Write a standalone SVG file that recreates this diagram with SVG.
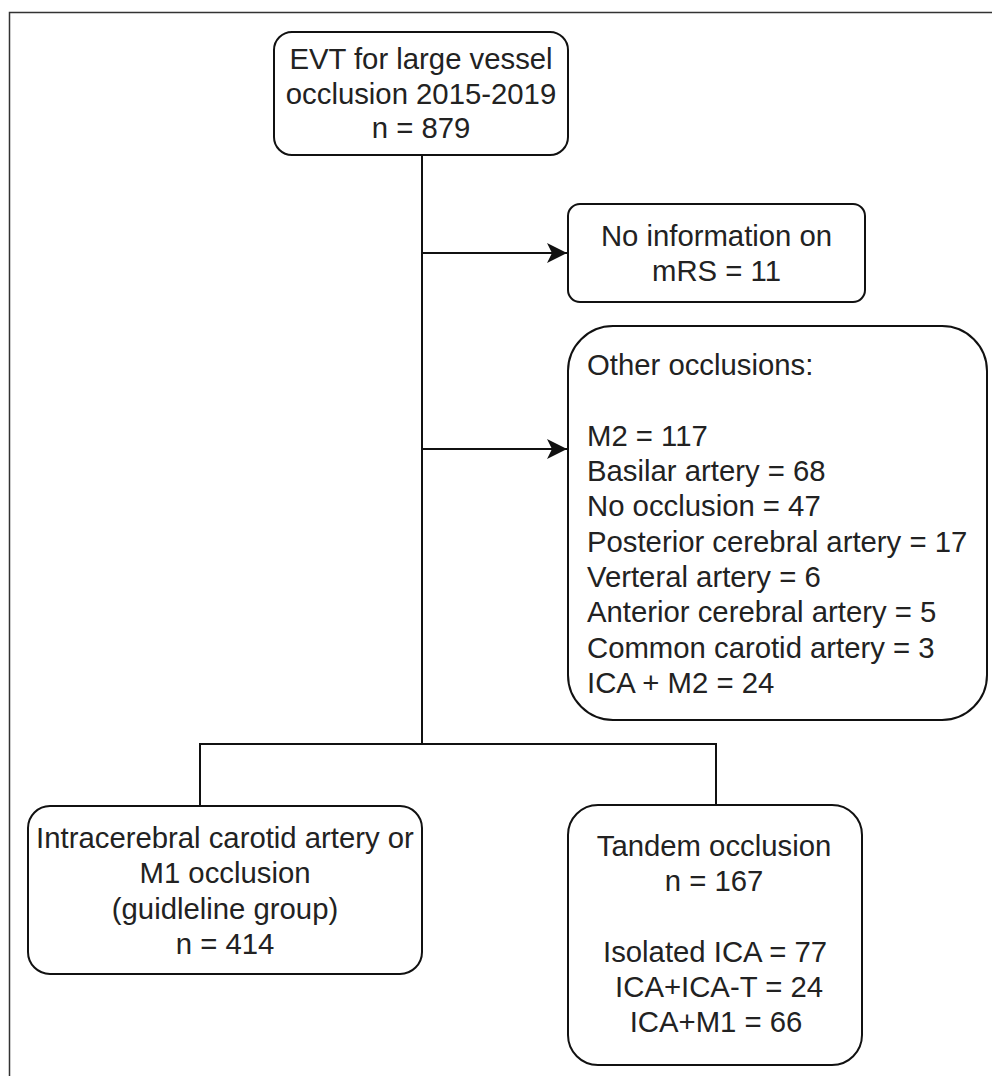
<svg xmlns="http://www.w3.org/2000/svg" width="992" height="1076" viewBox="0 0 992 1076">
<defs>
<style>
.box{fill:#fff;stroke:#111;stroke-width:2}
.t{font-family:"Liberation Sans",Arial,sans-serif;font-size:29.3px;fill:#222}
.c{text-anchor:middle}
.ln{fill:none;stroke:#111;stroke-width:2}
</style>
<marker id="arr" markerUnits="userSpaceOnUse" markerWidth="22" markerHeight="22" refX="20" refY="11" orient="auto">
<path d="M0,1 L20,11 L0,21 L5,11 Z" fill="#111"/>
</marker>
</defs>
<rect width="992" height="1076" fill="#fff"/>
<path d="M9.5,1076 V12.5 H992" fill="none" stroke="#333" stroke-width="1.5"/>
<g id="connectors">
<path class="ln" d="M422,155 V744"/>
<path class="ln" d="M422,253 H567" marker-end="url(#arr)"/>
<path class="ln" d="M422,449 H567" marker-end="url(#arr)"/>
<path class="ln" d="M200,806 V744 H716 V805"/>
</g>
<g id="n-evt">
<rect class="box" x="274" y="32" width="294" height="123" rx="18"/>
<text class="t c" x="421" y="69">EVT for large vessel</text>
<text class="t c" x="421" y="104">occlusion 2015-2019</text>
<text class="t c" x="421" y="138">n = 879</text>
</g>
<g id="n-noinfo">
<rect class="box" x="568" y="204" width="297" height="98" rx="12"/>
<text class="t c" x="716.5" y="246">No information on</text>
<text class="t c" x="716.5" y="281">mRS = 11</text>
</g>
<g id="n-other">
<rect class="box" x="568" y="326" width="419" height="394" rx="45"/>
<text class="t" x="587" y="375">Other occlusions:</text>
<text class="t" x="587" y="445.5">M2 = 117</text>
<text class="t" x="587" y="481">Basilar artery = 68</text>
<text class="t" x="587" y="516">No occlusion = 47</text>
<text class="t" x="587" y="551.5">Posterior cerebral artery = 17</text>
<text class="t" x="587" y="587">Verteral artery = 6</text>
<text class="t" x="587" y="622">Anterior cerebral artery = 5</text>
<text class="t" x="587" y="657.5">Common carotid artery = 3</text>
<text class="t" x="587" y="692.5">ICA + M2 = 24</text>
</g>
<g id="n-guideline">
<rect class="box" x="28" y="806" width="394" height="168" rx="22"/>
<text class="t c" x="225" y="848">Intracerebral carotid artery or</text>
<text class="t c" x="225" y="883">M1 occlusion</text>
<text class="t c" x="225" y="919">(guidleline group)</text>
<text class="t c" x="225" y="954">n = 414</text>
</g>
<g id="n-tandem">
<rect class="box" x="568" y="805" width="294" height="260" rx="30"/>
<text class="t c" x="714" y="856">Tandem occlusion</text>
<text class="t c" x="714" y="891">n = 167</text>
<text class="t c" x="715" y="962">Isolated ICA = 77</text>
<text class="t c" x="715" y="997" xml:space="preserve"> ICA+ICA-T = 24</text>
<text class="t c" x="716" y="1032">ICA+M1 = 66</text>
</g>
</svg>
